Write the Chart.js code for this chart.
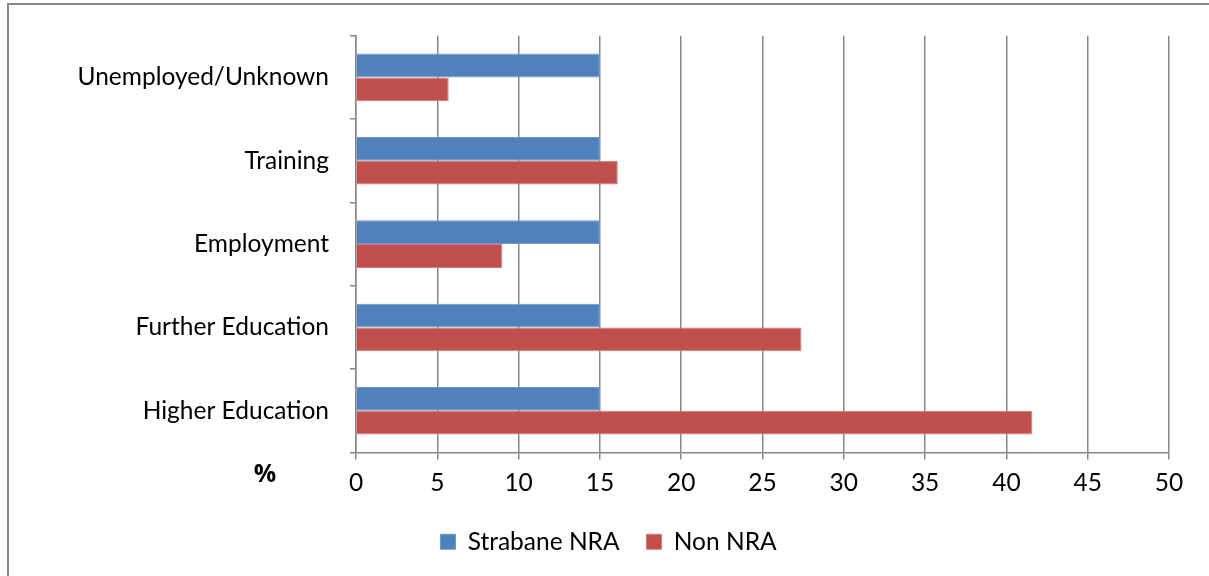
<!DOCTYPE html>
<html>
<head>
<meta charset="utf-8">
<script src="https://cdn.jsdelivr.net/npm/chart.js@4.4.1/dist/chart.umd.min.js"></script>
<style>
  html, body { margin: 0; padding: 0; background: #fff; overflow: hidden; }
  #wrap { position: absolute; left: 0; top: 0; width: 1209px; height: 576px; }
  #frame { position: absolute; left: 7px; top: 3px; width: 1400px; height: 800px; border: 2px solid #888; box-sizing: border-box; }
  canvas { position: absolute; left: 0; top: 0; }
</style>
</head>
<body>
<div id="wrap">
  <div id="frame"></div>
  <canvas id="c" width="1209" height="576"></canvas>
</div>
<script>
const categories = ["Unemployed/Unknown", "Training", "Employment", "Further Education", "Higher Education"];
const strabaneNRA = [15, 15, 15, 15, 15];
const nonNRA = [5.7, 16.1, 9.0, 27.4, 41.6];
const xTicks = [0, 5, 10, 15, 20, 25, 30, 35, 40, 45, 50];
const seriesNames = ["Strabane NRA", "Non NRA"];
const axisLabel = "%";

const FONT = "Lato, 'Noto Sans', sans-serif";

const percentLabel = {
  id: 'percentLabel',
  afterDraw(chart) {
    const ctx = chart.ctx, a = chart.chartArea;
    ctx.save();
    ctx.font = "bold 25px 'Open Sans', 'Liberation Sans', sans-serif";
    ctx.fillStyle = "#000";
    ctx.textAlign = "center";
    ctx.textBaseline = "middle";
    ctx.fillText(axisLabel, a.left - 91, a.bottom + 22);
    ctx.restore();
  }
};

new Chart(document.getElementById('c'), {
  type: 'bar',
  data: {
    labels: categories,
    datasets: [
      { label: seriesNames[0], data: strabaneNRA, backgroundColor: '#4F81BD', borderColor: '#7196c8', borderWidth: 1, categoryPercentage: 0.571, barPercentage: 1.0 },
      { label: seriesNames[1], data: nonNRA, backgroundColor: '#C0504D', borderColor: '#d47a77', borderWidth: 1, categoryPercentage: 0.571, barPercentage: 1.0 }
    ]
  },
  options: {
    indexAxis: 'y',
    responsive: false,
    animation: false,
    devicePixelRatio: 1,
    layout: { padding: { top: 32, left: 48, right: 40, bottom: 12 } },
    plugins: {
      tooltip: { enabled: false },
      legend: {
        position: 'bottom',
        labels: {
          boxWidth: 15, boxHeight: 15, padding: 27,
          color: '#000',
          font: { family: FONT, size: 24.5 }
        }
      }
    },
    scales: {
      x: {
        min: 0, max: 50,
        afterBuildTicks(scale) { scale.ticks = xTicks.map(v => ({ value: v })); },
        afterFit(scale) { scale.height = 50; },
        grid: { color: '#888', lineWidth: 1.5, tickLength: 7, drawTicks: true },
        border: { display: true, color: '#888', width: 1.5 },
        ticks: { color: '#000', font: { family: FONT, size: 24.5 }, padding: 9, maxRotation: 0 }
      },
      y: {
        afterFit(scale) { scale.width = 308; },
        grid: { display: true, drawOnChartArea: false, drawTicks: true, tickLength: 6, color: '#888', lineWidth: 1.5, offset: true },
        border: { display: true, color: '#888', width: 1.5 },
        ticks: { color: '#000', font: { family: FONT, size: 24.5 }, padding: 21 }
      }
    }
  },
  plugins: [percentLabel]
});
</script>
</body>
</html>
